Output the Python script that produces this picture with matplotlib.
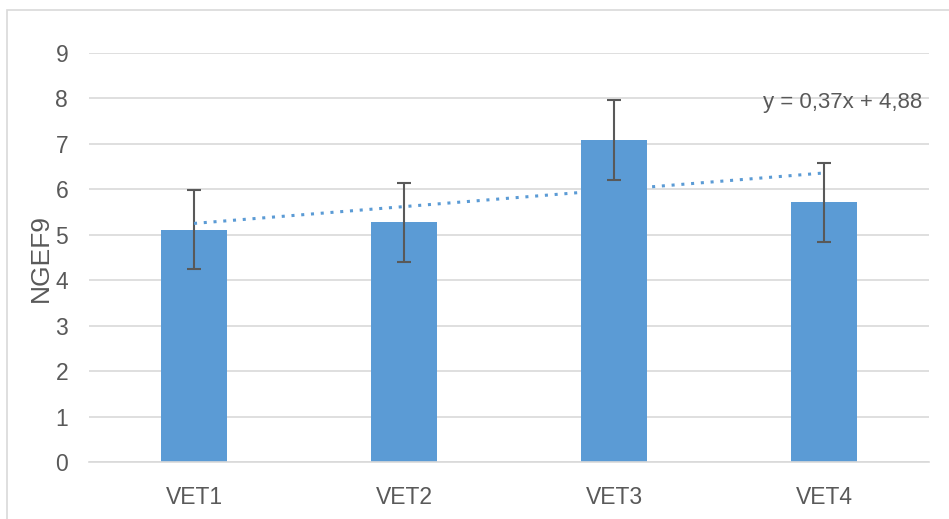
import matplotlib
matplotlib.use("Agg")
import matplotlib.pyplot as plt
from matplotlib.patches import Rectangle
import numpy as np

categories = ["VET1", "VET2", "VET3", "VET4"]
values = [5.11, 5.28, 7.09, 5.72]
errors = [0.87, 0.87, 0.88, 0.87]
trend_slope = 0.37
trend_intercept = 4.88
y_label = "NGEF9"
equation = "y = 0,37x + 4,88"

plt.rcParams['font.family'] = ['Liberation Sans', 'DejaVu Sans']

fig = plt.figure(figsize=(9.49, 5.19), dpi=100)
fig.patches.append(Rectangle((7/949, -0.05), 2, 1.05 - 10/519, transform=fig.transFigure,
                             fill=False, edgecolor='#D9D9D9', linewidth=1.2))
ax = fig.add_axes([89/949, 1 - 462/519, 840/949, 409/519])

x = np.arange(len(categories))
bar_color = '#5B9BD5'
ax.bar(x, values, width=0.314, color=bar_color, zorder=2)
ax.errorbar(x, values, yerr=errors, fmt='none', ecolor='#595959', elinewidth=1.5,
            capsize=5, capthick=1.5, zorder=3)

xt = np.linspace(1, 4, 50)
ax.plot(xt - 1, trend_slope * xt + trend_intercept, linestyle=(0, (1, 2.2)),
        color=bar_color, linewidth=2.2, zorder=4)
ax.text(3.47, 7.9, equation, ha='right', va='center', fontsize=16, color='#595959')

ax.set_xlim(-0.5, 3.5)
ax.set_ylim(0, 9)
ax.set_yticks(range(0, 10))
ax.yaxis.grid(True, color='#D9D9D9', linewidth=1.2, zorder=0)
ax.set_axisbelow(True)
for s in ['top', 'right', 'left']:
    ax.spines[s].set_visible(False)
ax.spines['bottom'].set_color('#D9D9D9')
ax.spines['bottom'].set_linewidth(1.2)
ax.tick_params(axis='both', length=0, labelsize=16.5, labelcolor='#595959')
ax.tick_params(axis='y', pad=15)
ax.tick_params(axis='x', pad=17)
ax.set_xticks(x)
ax.set_xticklabels(categories)
ax.set_ylabel(y_label, fontsize=19, color='#595959', labelpad=2)

fig.savefig("out.png", dpi=100)
